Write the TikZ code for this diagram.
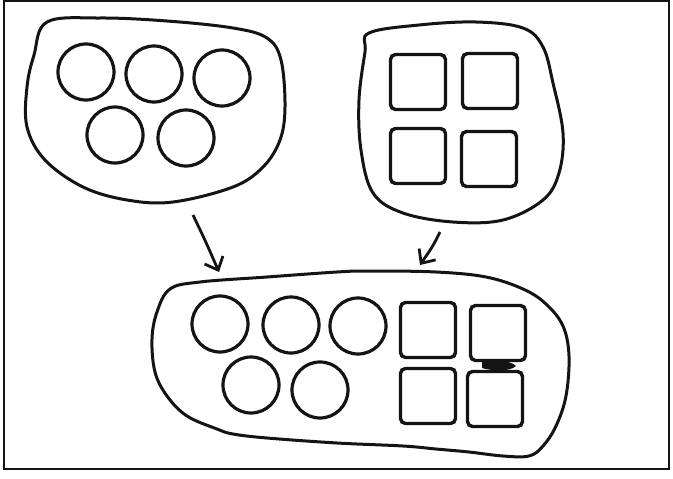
\documentclass[tikz,border=0pt]{standalone}
\usepackage{tikz}
\usetikzlibrary{shapes,arrows.meta,positioning}
\definecolor{InkBlack}{RGB}{20, 20, 20}

\begin{document}
\begin{tikzpicture}[x=1pt, y=-1pt,
    ball/.style={circle, draw=InkBlack, line width=3.2pt, minimum size=56pt, inner sep=0pt},
    brick/.style={rectangle, draw=InkBlack, line width=3.4pt, rounded corners=5pt, minimum size=55pt, inner sep=0pt},
    blob/.style={draw=InkBlack, line width=3pt},
    pointer/.style={draw=InkBlack, line width=2.8pt, -{Straight Barb[length=11pt,width=20pt]}}]
    \useasboundingbox (0,0) rectangle (673,479);

    % Frame
    \draw[InkBlack, line width=2.4pt] (4,1) rectangle (669,469);

    % Set of circles (top left)
    \draw[blob] plot[smooth cycle, tension=0.6] coordinates {(47,22) (100,18) (167,21) (233,28) (267,38) (281,60)
      (285,107) (280,140) (263,167) (233,187) (173,202) (127,200) (83,187) (45,160) (27,127) (27,87) (34,55)};
    \node[ball] (c1) at (86,72) {};
    \node[ball] (c2) at (154,74) {};
    \node[ball] (c3) at (222,78) {};
    \node[ball] (c4) at (115,135) {};
    \node[ball] (c5) at (186,138) {};

    % Set of squares (top right)
    \draw[blob] plot[smooth cycle, tension=0.6] coordinates {(369,33) (419,25) (476,22) (523,28) (543,47) (553,83)
      (563,133) (559,173) (543,200) (503,220) (453,222) (403,213) (373,193) (361,150) (359,100) (365,52)};
    \node[brick] (s1) at (418,82) {};
    \node[brick] (s2) at (490,81) {};
    \node[brick] (s3) at (418,156) {};
    \node[brick] (s4) at (489,159) {};

    % Union of both sets (bottom)
    \draw[blob] plot[smooth cycle, tension=0.6] coordinates {(170,289) (200,282) (267,277) (337,272) (369,271)
      (436,272) (486,277) (523,289) (546,304) (563,326) (569,356) (566,396) (556,426) (543,446) (529,456)
      (503,456) (469,452) (436,449) (403,446) (337,443) (267,438) (233,434) (217,429) (187,416) (167,396)
      (155,372) (152,339) (157,312)};
    \node[ball] (u1) at (220,324) {};
    \node[ball] (u2) at (291,325) {};
    \node[ball] (u3) at (358,326) {};
    \node[ball] (u4) at (251,385) {};
    \node[ball] (u5) at (320,390) {};
    \node[brick] (v1) at (428,330) {};
    \node[brick] (v2) at (498,333) {};
    \node[brick] (v3) at (428,396) {};
    \node[brick] (v4) at (495,399) {};
    \fill[InkBlack] (482,362) .. controls (495,359) and (512,361) .. (516,366)
      .. controls (510,372) and (492,371) .. (482,368) -- cycle;

    % Arrows into the union
    \coordinate (circTail) at (193,215);
    \coordinate (circHead) at (219,272);
    \coordinate (sqTail) at (440,232);
    \coordinate (sqHead) at (420,265);
    \draw[pointer] (circTail) .. controls (205,240) .. (circHead);
    \draw[pointer] (sqTail) .. controls (433,246) .. (sqHead);
  \end{tikzpicture}
\end{document}
